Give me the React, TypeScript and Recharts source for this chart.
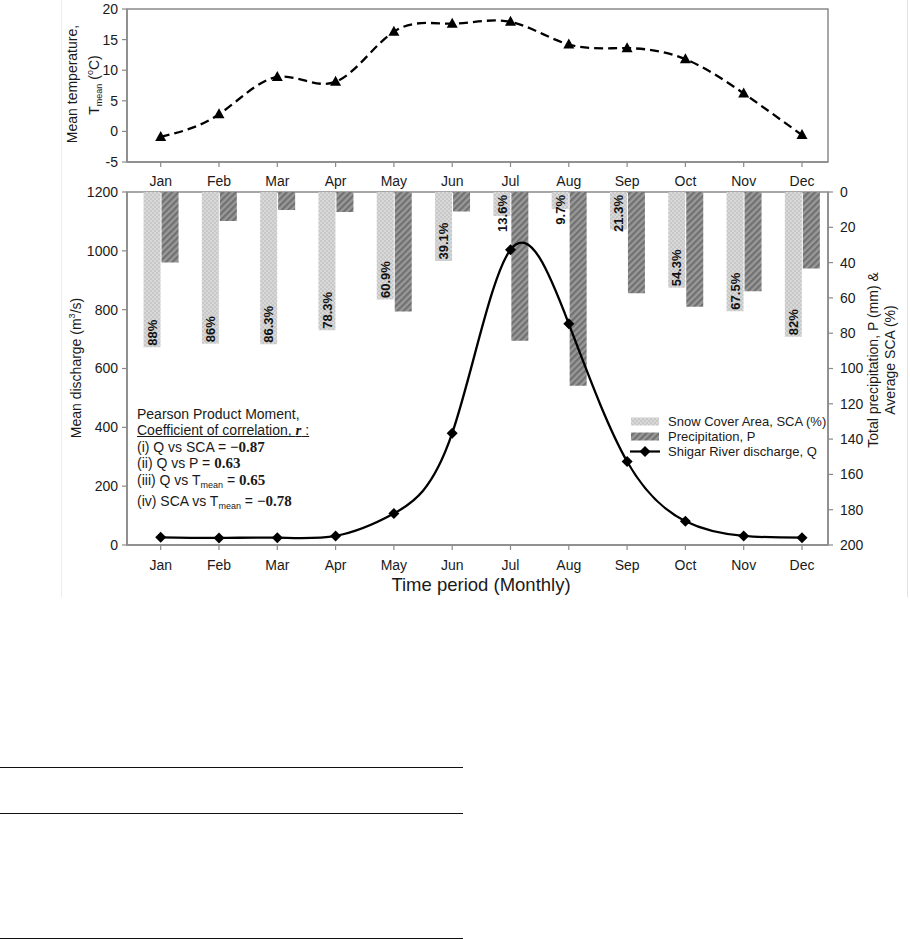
import React from 'react';
import { ComposedChart, Line, Bar, XAxis, YAxis, ReferenceArea, Legend } from 'recharts';

const months = ['Jan', 'Feb', 'Mar', 'Apr', 'May', 'Jun', 'Jul', 'Aug', 'Sep', 'Oct', 'Nov', 'Dec'];
const meanTemp = [-0.9, 2.8, 8.9, 8.1, 16.3, 17.6, 17.9, 14.2, 13.6, 11.8, 6.2, -0.6];
const discharge = [26, 24, 25, 31, 107, 380, 1004, 752, 284, 81, 31, 25];
const snowCover = [88, 86, 86.3, 78.3, 60.9, 39.1, 13.6, 9.7, 21.3, 54.3, 67.5, 82];
const precipitation = [40, 16.5, 10.2, 11.4, 67.7, 11, 84.3, 109.8, 57.3, 65, 56.2, 43.3];

const tempTicks = [-5, 0, 5, 10, 15, 20];
const dischargeTicks = [0, 200, 400, 600, 800, 1000, 1200];
const rightTicks = [0, 20, 40, 60, 80, 100, 120, 140, 160, 180, 200];
const legendLabels = ['Snow Cover Area, SCA (%)', 'Precipitation, P', 'Shigar River discharge, Q'];

const X_DOMAIN: [number, number] = [-0.578, 11.446];
const monthTicks = months.map((_, i) => i);

const topData = months.map((m, i) => ({ idx: i, month: m, temp: meanTemp[i] }));
const bottomData = months.map((m, i) => ({
  idx: i,
  month: m,
  q: discharge[i],
  sca: snowCover[i],
  p: precipitation[i],
}));

const FONT = '"Liberation Sans", Arial, Helvetica, sans-serif';
const SERIF = '"Liberation Serif", "Times New Roman", serif';
const AXIS = '#8a8a8a';
const tickStyle = { fontSize: 14, fill: '#1a1a1a', fontFamily: FONT };

const TriangleDot = (props: any) => {
  const { cx, cy, index } = props;
  if (cx == null || cy == null) return <g key={`t${index}`} />;
  return (
    <polygon
      key={`t${index}`}
      points={`${cx},${cy - 6} ${cx - 5.5},${cy + 4} ${cx + 5.5},${cy + 4}`}
      fill="#000"
    />
  );
};

const DiamondDot = (props: any) => {
  const { cx, cy, index } = props;
  if (cx == null || cy == null) return <g key={`d${index}`} />;
  return (
    <polygon
      key={`d${index}`}
      points={`${cx},${cy - 5.5} ${cx + 5.5},${cy} ${cx},${cy + 5.5} ${cx - 5.5},${cy}`}
      fill="#000"
    />
  );
};

const charW = (c: string) => (c === '%' ? 11.6 : c === '.' ? 3.6 : 7.2);

const renderScaLabel = (props: any) => {
  const { x, y, width, height, value } = props;
  if (x == null || y == null) return null;
  const top = Math.min(y, y + height);
  const bottom = Math.max(y, y + height);
  const text = `${value}%`;
  const est = text.split('').reduce((s, c) => s + charW(c), 0);
  const cx = x + width / 2;
  const useBottom = bottom - top > est + 4;
  const ty = useBottom ? bottom - 1.5 : top + 3;
  return (
    <text
      x={cx}
      y={ty}
      dy="0.36em"
      transform={`rotate(-90 ${cx} ${ty})`}
      textAnchor={useBottom ? 'start' : 'end'}
      fontSize={13}
      fontWeight="bold"
      fontFamily={FONT}
      fill="#111"
    >
      {text}
    </text>
  );
};

const LegendContent = () => (
  <div style={{ fontFamily: FONT, fontSize: 13, color: '#1a1a1a' }}>
    {legendLabels.map((lab, i) => (
      <div key={lab} style={{ display: 'flex', alignItems: 'center', height: 15.2, whiteSpace: 'nowrap' }}>
        <svg width={30} height={15} style={{ marginRight: 8, flex: 'none' }}>
          {i === 0 && <rect x={1} y={3.5} width={28} height={8} fill="url(#scaPat)" />}
          {i === 1 && <rect x={1} y={3.5} width={28} height={8} fill="url(#precipPat)" />}
          {i === 2 && (
            <g>
              <line x1={0} y1={7.5} x2={30} y2={7.5} stroke="#000" strokeWidth={2.2} />
              <polygon points="15,2 20.5,7.5 15,13 9.5,7.5" fill="#000" />
            </g>
          )}
        </svg>
        <span>{lab}</span>
      </div>
    ))}
  </div>
);

const rot = (cx: number, cy: number, w: number, h: number): React.CSSProperties => ({
  position: 'absolute',
  left: cx - w / 2,
  top: cy - h / 2,
  width: w,
  height: h,
  lineHeight: `${h}px`,
  textAlign: 'center',
  whiteSpace: 'nowrap',
  transform: 'rotate(-90deg)',
  transformOrigin: 'center center',
  fontFamily: FONT,
  fontSize: 14,
  color: '#1a1a1a',
});

const bold: React.CSSProperties = { fontFamily: SERIF, fontWeight: 'bold', fontSize: 15 };
const sub: React.CSSProperties = { fontSize: 9, verticalAlign: -3 };

export default function App() {
  return (
    <div style={{ position: 'absolute', left: 0, top: 0, width: 910, height: 939, background: '#fff', overflow: 'hidden' }}>
      <svg width={0} height={0} style={{ position: 'absolute' }}>
        <defs>
          <pattern id="scaPat" width={4} height={4} patternUnits="userSpaceOnUse">
            <rect width={4} height={4} fill="#d8d8d8" />
            <rect width={2} height={2} fill="#c8c8c8" />
            <rect x={2} y={2} width={2} height={2} fill="#c8c8c8" />
          </pattern>
          <pattern id="precipPat" width={4.5} height={4.5} patternUnits="userSpaceOnUse" patternTransform="rotate(45)">
            <rect width={4.5} height={4.5} fill="#999999" />
            <rect width={2.2} height={4.5} fill="#707070" />
          </pattern>
        </defs>
      </svg>

      {/* faint figure frame */}
      <div style={{ position: 'absolute', left: 61, top: 0, width: 845, height: 597, borderLeft: '1px solid #ececec', borderRight: '1px solid #e2e2e2' }} />

      {/* Bottom chart: discharge, SCA, precipitation */}
      <div style={{ position: 'absolute', left: 0, top: 172 }}>
        <ComposedChart width={910} height={428} data={bottomData} barGap={1} margin={{ top: 20, right: 22, left: 67, bottom: 25 }}>
          <XAxis
            type="number"
            dataKey="idx"
            domain={X_DOMAIN}
            allowDataOverflow
            ticks={monthTicks}
            tickFormatter={(v: number) => months[v]}
            height={30}
            tickSize={5}
            tickMargin={10}
            tick={tickStyle}
            axisLine={{ stroke: AXIS, strokeWidth: 1.5 }}
            tickLine={{ stroke: AXIS, strokeWidth: 1.2 }}
          />
          <YAxis
            yAxisId="left"
            type="number"
            domain={[0, 1200]}
            ticks={dischargeTicks}
            width={60}
            tickSize={5}
            tickMargin={4}
            tick={tickStyle}
            axisLine={{ stroke: AXIS, strokeWidth: 1.5 }}
            tickLine={{ stroke: AXIS, strokeWidth: 1.2 }}
          />
          <YAxis
            yAxisId="right"
            orientation="right"
            type="number"
            domain={[0, 200]}
            reversed
            ticks={rightTicks}
            width={60}
            tickSize={5}
            tickMargin={7}
            tick={tickStyle}
            axisLine={{ stroke: AXIS, strokeWidth: 1.5 }}
            tickLine={{ stroke: AXIS, strokeWidth: 1.2 }}
          />
          <ReferenceArea yAxisId="left" x1={X_DOMAIN[0]} x2={X_DOMAIN[1]} y1={0} y2={1200} fill="none" stroke={AXIS} strokeWidth={1.5} ifOverflow="visible" />
          <Bar yAxisId="right" dataKey="sca" barSize={17} fill="url(#scaPat)" isAnimationActive={false} label={renderScaLabel} />
          <Bar yAxisId="right" dataKey="p" barSize={17} fill="url(#precipPat)" isAnimationActive={false} />
          <Line
            yAxisId="left"
            type="natural"
            dataKey="q"
            stroke="#000"
            strokeWidth={2.3}
            dot={DiamondDot}
            activeDot={false}
            isAnimationActive={false}
          />
          <Legend
            layout="vertical"
            align="center"
            verticalAlign="middle"
            content={LegendContent}
            wrapperStyle={{ position: 'absolute', left: 630, top: 242, width: 260, height: 46 }}
          />
        </ComposedChart>
      </div>

      {/* Top chart: mean temperature */}
      <div style={{ position: 'absolute', left: 0, top: 0 }}>
        <ComposedChart width={910} height={190} data={topData} margin={{ top: 9, right: 82, left: 67, bottom: 0 }}>
          <XAxis
            type="number"
            dataKey="idx"
            domain={X_DOMAIN}
            allowDataOverflow
            ticks={monthTicks}
            tickFormatter={(v: number) => months[v]}
            height={28}
            tickSize={5}
            tickMargin={9}
            tick={tickStyle}
            axisLine={{ stroke: AXIS, strokeWidth: 1.5 }}
            tickLine={{ stroke: AXIS, strokeWidth: 1.2 }}
          />
          <YAxis
            type="number"
            domain={[-5, 20]}
            ticks={tempTicks}
            width={60}
            tickSize={5}
            tickMargin={4}
            tick={tickStyle}
            axisLine={{ stroke: AXIS, strokeWidth: 1.5 }}
            tickLine={{ stroke: AXIS, strokeWidth: 1.2 }}
          />
          <ReferenceArea x1={X_DOMAIN[0]} x2={X_DOMAIN[1]} y1={-5} y2={20} fill="none" stroke={AXIS} strokeWidth={1.5} ifOverflow="visible" />
          <Line
            type="natural"
            dataKey="temp"
            stroke="#000"
            strokeWidth={2.3}
            strokeDasharray="9 5"
            dot={TriangleDot}
            activeDot={false}
            isAnimationActive={false}
          />
        </ComposedChart>
      </div>

      {/* axis titles */}
      <div style={rot(71.5, 84, 150, 18)}>Mean temperature,</div>
      <div style={rot(90, 85, 120, 18)}>
        T<span style={sub}>mean</span> (<sup style={{ fontSize: 9 }}>o</sup>C)
      </div>
      <div style={rot(72, 368, 200, 18)}>
        Mean discharge (m<sup style={{ fontSize: 9 }}>3</sup>/s)
      </div>
      <div style={rot(872.5, 360, 240, 18)}>Total precipitation, P (mm) &amp;</div>
      <div style={rot(889.5, 360, 200, 18)}>Average SCA (%)</div>
      <div
        style={{
          position: 'absolute',
          left: 331,
          top: 575,
          width: 300,
          textAlign: 'center',
          fontFamily: FONT,
          fontSize: 18.5,
          lineHeight: '19px',
          color: '#1a1a1a',
        }}
      >
        Time period (Monthly)
      </div>

      {/* correlation annotation */}
      <div
        style={{
          position: 'absolute',
          left: 137,
          top: 406,
          fontFamily: FONT,
          fontSize: 14,
          lineHeight: '16.4px',
          color: '#1a1a1a',
          whiteSpace: 'nowrap',
        }}
      >
        <div>Pearson Product Moment,</div>
        <div style={{ textDecoration: 'underline' }}>
          Coefficient of correlation, <span style={{ fontFamily: SERIF, fontWeight: 'bold', fontStyle: 'italic', fontSize: 15 }}>r</span> :
        </div>
        <div>
          (i) Q vs SCA = <span style={bold}>−0.87</span>
        </div>
        <div>
          (ii) Q vs P = <span style={bold}>0.63</span>
        </div>
        <div>
          (iii) Q vs T<span style={sub}>mean</span> = <span style={bold}>0.65</span>
        </div>
        <div>
          (iv) SCA vs T<span style={sub}>mean</span> = <span style={bold}>−0.78</span>
        </div>
      </div>

      {/* page rules below the figure */}
      <div style={{ position: 'absolute', left: 0, top: 766.5, width: 463, height: 0, borderTop: '1.3px solid #111' }} />
      <div style={{ position: 'absolute', left: 0, top: 812.5, width: 463, height: 0, borderTop: '1.3px solid #111' }} />
      <div style={{ position: 'absolute', left: 0, top: 937.5, width: 463, height: 0, borderTop: '1.3px solid #111' }} />
    </div>
  );
}
